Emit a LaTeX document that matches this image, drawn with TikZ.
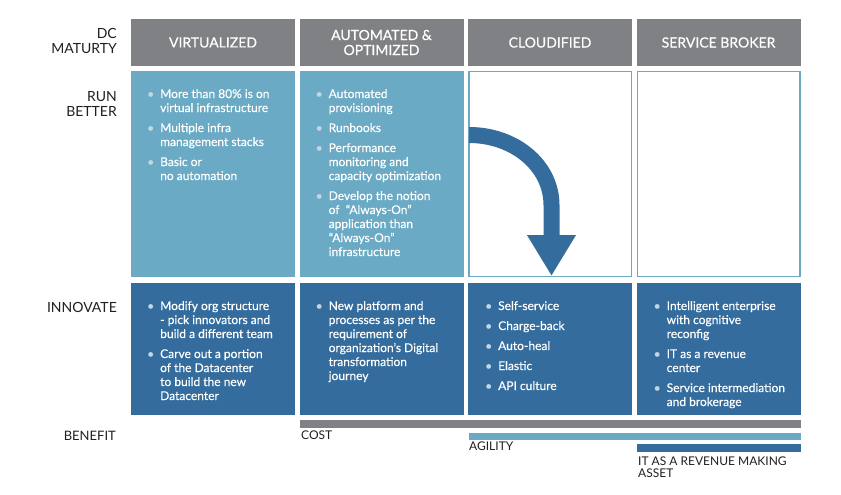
\documentclass[tikz,border=0pt]{standalone}
\usepackage{fontspec}
\setmainfont{Lato}
\newfontfamily\boxfont{Lato}[FakeBold=0.35, Ligatures=TeX]
\usetikzlibrary{arrows.meta}

\definecolor{hdrgray}{RGB}{128,129,132}
\definecolor{runblue}{RGB}{106,170,196}
\definecolor{innblue}{RGB}{52,108,157}
\definecolor{lbltext}{RGB}{35,31,32}
\definecolor{bulletc}{RGB}{196,214,226}

\newcommand{\bl}{\textcolor{bulletc}{\textbullet}}
\newenvironment{pts}{\begin{tabular}{@{}p{13pt}@{}l@{}}}{\end{tabular}}

\begin{document}
\begin{tikzpicture}[x=1pt, y=-1pt,
  hdr/.style={fill=hdrgray, text=white, minimum width=164pt, minimum height=47pt,
    inner sep=0, align=center, font=\boxfont\fontsize{14}{15}\selectfont},
  runbox/.style={fill=runblue, minimum width=164pt, minimum height=206pt, inner sep=0},
  openbox/.style={draw=runblue, line width=1.5pt, fill=white, minimum width=162.5pt,
    minimum height=204.5pt, inner sep=0},
  innbox/.style={fill=innblue, minimum width=164pt, minimum height=132pt, inner sep=0},
  body/.style={anchor=north west, inner sep=0, text=white,
    font=\boxfont\fontsize{12}{14}\selectfont},
  side/.style={anchor=north east, inner sep=0, align=right, text=lbltext,
    font=\fontsize{14}{15}\selectfont},
  foot/.style={anchor=north west, inner sep=0, align=left, text=lbltext,
    font=\fontsize{12}{12}\selectfont},
  bar/.style={anchor=north west, inner sep=0, minimum height=8pt},
  turn/.style={draw=innblue, line width=16pt, -{Triangle[width=46pt,length=41pt]}}]
  \useasboundingbox (0,0) rectangle (841,495);

  % row labels
  \node[side] (lmat) at (117,28) {DC\\MATURTY};
  \node[side] (lrun) at (117,91) {RUN\\BETTER};
  \node[side] (linn) at (117,302) {INNOVATE};
  \node[side, font=\fontsize{13}{13}\selectfont] (lben) at (116,431) {BENEFIT};

  % headers
  \node[hdr] (h1) at (213,42.5) {VIRTUALIZED};
  \node[hdr] (h2) at (381.5,42.5) {AUTOMATED \&\\OPTIMIZED};
  \node[hdr] (h3) at (550,42.5) {CLOUDIFIED};
  \node[hdr] (h4) at (718.5,42.5) {SERVICE BROKER};

  % run better
  \node[runbox] (r1) at (213,174) {};
  \node[runbox] (r2) at (381.5,174) {};
  \node[openbox] (r3) at (550,174) {};
  \node[openbox] (r4) at (718.5,174) {};

  % innovate
  \node[innbox] (n1) at (213,349) {};
  \node[innbox] (n2) at (381.5,349) {};
  \node[innbox] (n3) at (550,349) {};
  \node[innbox] (n4) at (718.5,349) {};

  \node[body] (t1) at (147,88) {\begin{pts}
    \bl & More than 80\% is on\\ & virtual infrastructure\\[6pt]
    \bl & Multiple infra\\ & management stacks\\[6pt]
    \bl & Basic or\\ & no automation
  \end{pts}};
  \node[body] (t2) at (315.5,88) {\begin{pts}
    \bl & Automated\\ & provisioning\\[6pt]
    \bl & Runbooks\\[6pt]
    \bl & Performance\\ & monitoring and\\ & capacity optimization\\[6pt]
    \bl & Develop the notion\\ & of \ “Always-On”\\ & application than\\ & “Always-On”\\ & infrastructure
  \end{pts}};

  \node[body] (u1) at (147,300) {\begin{pts}
    \bl & Modify org structure\\ & - pick innovators and\\ & build a different team\\[6pt]
    \bl & Carve out a portion\\ & of the Datacenter\\ & to build the new\\ & Datacenter
  \end{pts}};
  \node[body] (u2) at (315.5,300) {\begin{pts}
    \bl & New platform and\\ & processes as per the\\ & requirement of\\
        & organization’s Digital\\ & transformation\\ & journey
  \end{pts}};
  \node[body] (u3) at (485,300) {\begin{pts}
    \bl & Self-service\\[6pt]
    \bl & Charge-back\\[6pt]
    \bl & Auto-heal\\[6pt]
    \bl & Elastic\\[6pt]
    \bl & API culture
  \end{pts}};
  \node[body] (u4) at (653.5,300) {\begin{pts}
    \bl & Intelligent enterprise\\ & with cognitive\\ & reconfig\\[6pt]
    \bl & IT as a revenue\\ & center\\[6pt]
    \bl & Service intermediation\\ & and brokerage
  \end{pts}};

  % bend arrow
  \coordinate (turnstart) at (469,135);
  \coordinate (turntip) at (551.5,276);
  \draw[turn] (turnstart) .. controls (515,135) and (551.5,166) .. (551.5,205) -- (turntip);

  % benefit bars
  \node[bar, fill=hdrgray, minimum width=500.5pt] (costbar) at (300,420) {};
  \node[bar, fill=runblue, minimum width=331.5pt, minimum height=7pt] (agilbar) at (469,433) {};
  \node[bar, fill=innblue, minimum width=163.5pt] (revbar) at (637,444) {};
  \node[foot] (lcost) at (301,431) {COST};
  \node[foot] (lagil) at (469,442) {AGILITY};
  \node[foot] (lrev) at (638,457) {IT AS A REVENUE MAKING\\ASSET};
\end{tikzpicture}
\end{document}
